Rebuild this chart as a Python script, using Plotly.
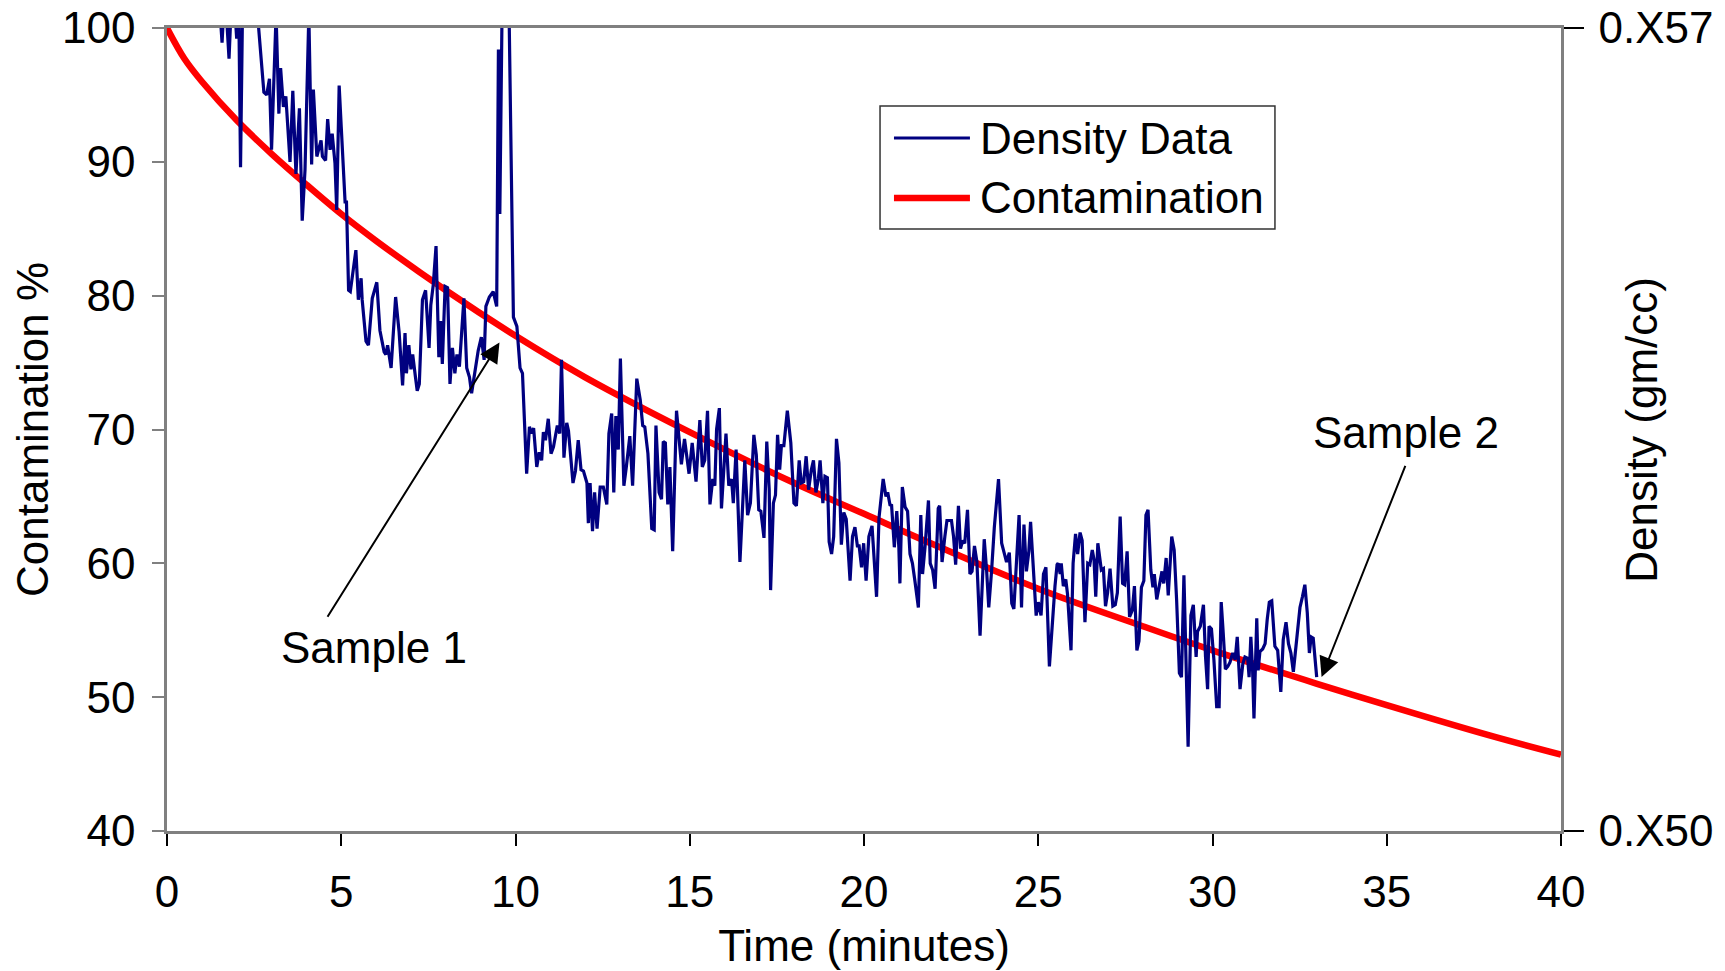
import plotly.graph_objects as go

# ---------------- data ----------------
contam_t = [0, 0.5, 1, 2, 3, 4, 5, 6, 8, 10, 12, 15, 18, 20, 22, 25, 28, 30, 33, 35, 38, 40]
contam_v = [100, 97.7, 96.0, 93.1, 90.6, 88.3, 86.1, 84.1, 80.4, 77.0, 73.9, 69.8, 66.0, 63.7,
            61.4, 58.1, 55.3, 53.5, 51.0, 49.4, 47.1, 45.7]

density_t = [
    1.45, 1.58, 1.66, 1.78, 1.88, 2.00, 2.06, 2.11, 2.18, 2.35, 2.50, 2.62, 2.78, 2.86, 2.94, 3.00,
    3.13, 3.21, 3.26, 3.34, 3.41, 3.53, 3.61, 3.70, 3.80, 3.88, 3.96, 4.07, 4.15, 4.20, 4.30, 4.42,
    4.46, 4.55, 4.61, 4.68, 4.74, 4.82, 4.87, 4.94, 5.00, 5.11, 5.15, 5.21, 5.26, 5.42, 5.49, 5.57,
    5.60, 5.71, 5.78, 5.89, 6.02, 6.11, 6.23, 6.28, 6.33, 6.43, 6.56, 6.66, 6.76, 6.83, 6.87, 6.94,
    7.00, 7.05, 7.13, 7.18, 7.24, 7.33, 7.42, 7.52, 7.57, 7.64, 7.72, 7.80, 7.85, 7.90, 7.98, 8.05,
    8.12, 8.19, 8.26, 8.32, 8.39, 8.52, 8.60, 8.68, 8.74, 8.83, 8.93, 9.02, 9.10, 9.15, 9.25, 9.36,
    9.46, 9.51, 9.55, 9.63, 9.72, 9.80, 9.94, 10.04, 10.13, 10.20, 10.32, 10.40, 10.46, 10.52, 10.61,
    10.68, 10.75, 10.80, 10.86, 10.94, 11.02, 11.09, 11.20, 11.27, 11.32, 11.39, 11.47, 11.52, 11.65,
    11.72, 11.80, 11.88, 11.95, 12.05, 12.09, 12.14, 12.21, 12.27, 12.34, 12.43, 12.52, 12.62, 12.68,
    12.76, 12.82, 12.88, 12.95, 13.01, 13.11, 13.18, 13.28, 13.36, 13.48, 13.58, 13.65, 13.71, 13.80,
    13.91, 13.98, 14.03, 14.12, 14.19, 14.24, 14.30, 14.37, 14.43, 14.51, 14.62, 14.69, 14.76, 14.85,
    14.98, 15.07, 15.18, 15.29, 15.36, 15.43, 15.51, 15.58, 15.66, 15.72, 15.77, 15.85, 15.91, 16.04,
    16.12, 16.20, 16.25, 16.33, 16.44, 16.58, 16.66, 16.74, 16.84, 16.91, 16.98, 17.04, 17.13, 17.21,
    17.28, 17.32, 17.40, 17.46, 17.52, 17.58, 17.63, 17.70, 17.80, 17.90, 17.99, 18.06, 18.14, 18.20,
    18.27, 18.34, 18.41, 18.49, 18.55, 18.62, 18.69, 18.74, 18.82, 18.88, 18.95, 19.00, 19.07, 19.13,
    19.21, 19.28, 19.35, 19.42, 19.49, 19.60, 19.67, 19.74, 19.81, 19.86, 19.93, 19.99, 20.06, 20.14,
    20.23, 20.36, 20.43, 20.55, 20.63, 20.68, 20.75, 20.79, 20.87, 20.94, 21.00, 21.03, 21.10, 21.18,
    21.25, 21.32, 21.39, 21.46, 21.56, 21.63, 21.68, 21.75, 21.85, 21.90, 21.97, 22.04, 22.13, 22.17,
    22.24, 22.32, 22.38, 22.51, 22.57, 22.63, 22.71, 22.77, 22.83, 22.89, 22.97, 23.04, 23.10, 23.17,
    23.24, 23.33, 23.40, 23.45, 23.52, 23.58, 23.66, 23.74, 23.86, 23.95, 24.02, 24.09, 24.17, 24.24,
    24.30, 24.38, 24.45, 24.52, 24.59, 24.66, 24.73, 24.78, 24.85, 24.94, 25.00, 25.08, 25.15, 25.22,
    25.32, 25.41, 25.48, 25.54, 25.57, 25.63, 25.66, 25.72, 25.79, 25.84, 25.94, 26.00, 26.07, 26.13,
    26.20, 26.26, 26.34, 26.42, 26.48, 26.55, 26.60, 26.65, 26.71, 26.81, 26.87, 26.93, 26.99, 27.06,
    27.14, 27.21, 27.27, 27.35, 27.42, 27.48, 27.55, 27.62, 27.70, 27.76, 27.83, 27.89, 27.96, 28.03,
    28.09, 28.15, 28.23, 28.29, 28.33, 28.40, 28.48, 28.55, 28.60, 28.67, 28.73, 28.83, 28.90, 28.97,
    29.05, 29.11, 29.18, 29.24, 29.30, 29.38, 29.45, 29.53, 29.57, 29.65, 29.74, 29.80, 29.86, 29.90,
    29.97, 30.04, 30.12, 30.19, 30.25, 30.30, 30.37, 30.44, 30.50, 30.58, 30.65, 30.71, 30.79, 30.87,
    30.93, 31.01, 31.05, 31.10, 31.15, 31.19, 31.27, 31.31, 31.36, 31.44, 31.51, 31.57, 31.63, 31.70,
    31.79, 31.87, 31.96, 32.03, 32.11, 32.18, 32.25, 32.32, 32.40, 32.46, 32.51, 32.58, 32.65, 32.72,
    32.78, 32.83, 32.89, 32.99,
]
density_v = [
    104, 98.9, 103, 97.7, 104, 99.2, 101.5, 89.6, 104, 106, 103, 100.3, 95.2, 95.0, 96.2, 90.9,
    101, 93.6, 97.0, 94.1, 94.9, 90.0, 95.3, 89.1, 94.0, 85.6, 89.4, 101, 89.8, 95.4, 90.4, 91.6,
    90.4, 90.1, 93.2, 90.9, 92.1, 89.9, 86.4, 95.7, 92.6, 87.0, 87.0, 80.4, 80.3, 83.4, 79.7, 81.3,
    79.7, 76.6, 76.3, 79.8, 81.0, 77.4, 75.8, 75.6, 76.3, 74.6, 79.9, 77.3, 73.3, 77.2, 74.2, 76.3,
    74.5, 75.6, 73.9, 72.9, 73.4, 79.7, 80.4, 76.1, 79.3, 80.8, 83.7, 75.4, 78.1, 74.9, 80.7, 80.6,
    73.4, 76.1, 74.2, 75.6, 74.7, 79.8, 74.6, 73.9, 72.7, 74.2, 75.9, 76.9, 75.2, 79.2, 79.9, 80.3,
    79.2, 98.4, 86.1, 105, 108, 104, 78.4, 77.7, 74.6, 74.2, 66.7, 70.2, 69.7, 70.1, 67.2,
    68.3, 67.7, 69.8, 69.2, 70.8, 68.2, 68.7, 70.3, 69.7, 75.2, 67.9, 70.5, 69.9, 66.0,
    66.9, 69.2, 67.0, 66.9, 66.0, 63.0, 66.0, 62.4, 65.3, 62.6, 65.7, 65.7, 64.4, 69.7,
    71.2, 65.3, 71.0, 68.5, 75.3, 65.8, 67.2, 69.5, 65.8, 73.8, 72.2, 70.3, 70.2, 68.2,
    62.6, 62.5, 70.3, 65.3, 64.8, 69.1, 69.0, 64.4, 67.2, 60.9, 71.4, 69.2, 67.4, 69.3,
    66.7, 69.0, 66.1, 70.7, 67.2, 67.7, 71.4, 64.4, 66.3, 65.8, 70.0, 71.6, 64.1, 69.7,
    65.8, 66.3, 64.5, 68.5, 60.1, 67.7, 63.6, 64.5, 69.6, 68.1, 64.0, 63.9, 61.9, 69.1,
    65.5, 58.0, 64.5, 65.1, 69.6, 67.0, 68.8, 68.8, 71.4, 69.0, 64.5, 64.3, 67.7, 66.0,
    66.1, 68.0, 65.5, 67.0, 67.7, 65.3, 66.3, 67.7, 64.5, 66.5, 66.4, 61.6, 60.7, 62.0,
    69.3, 67.5, 61.4, 63.8, 63.3, 58.7, 62.0, 62.7, 61.3, 61.3, 59.7, 61.5, 58.7, 62.0,
    62.8, 57.5, 63.4, 66.3, 65.0, 65.3, 64.3, 64.4, 61.2, 63.9, 61.2, 58.5, 65.7, 64.2,
    63.9, 60.7, 60.0, 58.7, 56.7, 63.6, 59.2, 61.2, 64.7, 60.0, 59.5, 58.1, 64.1, 64.3,
    60.1, 62.0, 63.2, 63.2, 62.0, 59.9, 64.3, 61.1, 61.7, 61.5, 64.0, 59.2, 59.4, 61.3,
    60.1, 54.6, 58.7, 61.8, 59.4, 56.7, 59.4, 62.7, 66.3, 61.5, 60.8, 60.1, 60.8, 57.0,
    56.6, 60.3, 63.6, 56.7, 62.9, 59.4, 60.9, 63.1, 60.1, 56.1, 57.1, 56.1, 59.2, 59.7,
    52.3, 56.0, 58.3, 59.9, 60.0, 59.2, 60.0, 58.3, 58.8, 57.7, 53.5, 60.0, 62.2, 60.7,
    62.3, 61.7, 55.6, 60.0, 59.9, 61.0, 60.3, 57.5, 61.5, 59.5, 59.6, 56.8, 57.8, 59.6,
    56.8, 56.9, 57.8, 63.5, 58.5, 58.4, 60.9, 56.0, 56.5, 58.3, 53.5, 54.2, 58.2, 58.7,
    63.6, 64.0, 59.5, 58.2, 59.2, 57.3, 58.4, 59.4, 58.5, 60.4, 57.6, 62.0, 61.0, 57.3,
    51.8, 51.5, 59.1, 53.5, 46.3, 56.1, 56.9, 53.0, 54.9, 55.3, 56.9, 53.0, 50.6, 55.3,
    55.1, 52.8, 49.3, 49.3, 57.1, 55.1, 52.1, 52.3, 52.6, 53.3, 52.8, 54.5, 50.6, 52.5,
    53.0, 52.9, 51.5, 54.5, 52.1, 48.4, 55.9, 52.0, 53.4, 53.6, 54.0, 55.8, 57.1, 57.2,
    53.8, 53.5, 50.4, 54.3, 55.6, 54.0, 53.3, 51.9, 54.0, 55.3, 56.7, 57.5, 58.4, 56.3,
    53.3, 54.5, 54.4, 51.5,
]

x_ticks = [0, 5, 10, 15, 20, 25, 30, 35, 40]
y_ticks = [40, 50, 60, 70, 80, 90, 100]
y2_tickvals = [40, 100]
y2_ticktext = ["0.X50", "0.X57"]

FONT = "Liberation Sans, Arial, sans-serif"
FS = 44
BLUE = "#000080"
RED = "#FF0000"
GRAY = "#808080"

fig = go.Figure()
fig.add_trace(go.Scatter(x=density_t, y=density_v, mode="lines", name="Density Data",
                         line=dict(color=BLUE, width=3.2), yaxis="y2", showlegend=False))
fig.add_trace(go.Scatter(x=contam_t, y=contam_v, mode="lines", name="Contamination",
                         line=dict(color=RED, width=6.5, shape="spline"), showlegend=False))

# custom legend (box, line samples, labels)
lx0, lx1, ly0, ly1 = 0.5115, 0.7948, 0.7497, 0.9029
fig.add_shape(type="rect", xref="paper", yref="paper", x0=lx0, x1=lx1, y0=ly0, y1=ly1,
              line=dict(color="#333333", width=1.5), fillcolor="white", layer="above")
legend_items = [("Density Data", BLUE, 3, 0.8630), ("Contamination", RED, 6.5, 0.7883)]
for name, col, w, yy in legend_items:
    fig.add_shape(type="line", xref="paper", yref="paper", x0=0.5215, x1=0.5760, y0=yy, y1=yy,
                  line=dict(color=col, width=w), layer="above")
    fig.add_annotation(xref="paper", yref="paper", x=0.5815, y=yy, text=name, showarrow=False,
                       xanchor="left", yanchor="middle", font=dict(family=FONT, size=FS, color="black"))

# sample annotations
fig.add_annotation(x=5.94, y=53.7, text="Sample 1", showarrow=False,
                   font=dict(family=FONT, size=FS, color="black"))
fig.add_annotation(x=9.54, y=76.5, ax=4.58, ay=55.9, axref="x", ayref="y", text="",
                   showarrow=True, arrowhead=2, arrowsize=2, arrowwidth=2, arrowcolor="black")
fig.add_annotation(x=35.55, y=69.8, text="Sample 2", showarrow=False,
                   font=dict(family=FONT, size=FS, color="black"))
fig.add_annotation(x=33.13, y=51.5, ax=35.55, ay=67.4, axref="x", ayref="y", text="",
                   showarrow=True, arrowhead=2, arrowsize=2, arrowwidth=2, arrowcolor="black")

# right axis title
fig.add_annotation(xref="paper", yref="paper", x=1.0575, y=0.5, text="Density (gm/cc)",
                   showarrow=False, textangle=-90, xanchor="center", yanchor="middle",
                   font=dict(family=FONT, size=FS, color="black"))

fig.update_layout(
    width=1725, height=971,
    margin=dict(l=167, r=164, t=28, b=140),
    paper_bgcolor="white", plot_bgcolor="white",
    font=dict(family=FONT, size=FS, color="black"),
    xaxis=dict(range=[0, 40], tickvals=x_ticks, ticks="outside", ticklen=12, tickcolor="black",
               tickwidth=1.5, showline=True, linecolor=GRAY, linewidth=2.5, mirror=True,
               showgrid=False, zeroline=False, ticklabelstandoff=8, automargin=False,
               title=dict(text="Time (minutes)", standoff=16, font=dict(size=FS))),
    yaxis=dict(range=[40, 100], tickvals=y_ticks, ticks="outside", ticklen=12, tickcolor=GRAY,
               tickwidth=1.5, showline=True, linecolor=GRAY, linewidth=2.5, mirror=True,
               showgrid=False, zeroline=False, ticklabelstandoff=8, automargin=False,
               title=dict(text="Contamination %", standoff=0, font=dict(size=FS))),
    yaxis2=dict(range=[40, 100], overlaying="y", side="right", tickvals=y2_tickvals,
                ticktext=y2_ticktext, ticks="outside", ticklen=20, tickcolor="black", tickwidth=1.5,
                showline=True, linecolor=GRAY, linewidth=2.5, showgrid=False, zeroline=False,
                ticklabelstandoff=6, automargin=False),
)

fig.write_html("out.html")
